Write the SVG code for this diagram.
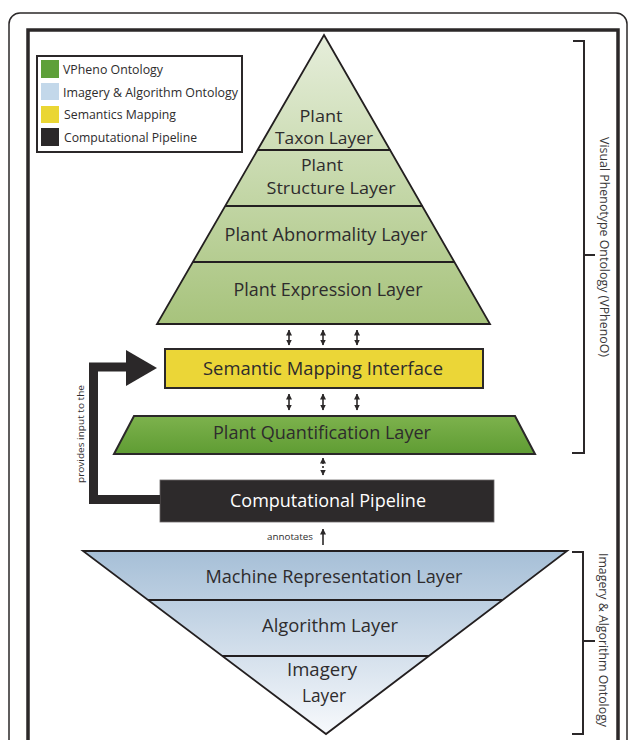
<svg xmlns="http://www.w3.org/2000/svg" width="629" height="740" viewBox="0 0 629 740">
  <style>
    .lbl { font-family: "Open Sans", "Noto Sans", sans-serif; font-size: 18px; fill: #2e2c2d; text-anchor: middle; }
    .lbl2 { font-family: "Open Sans", "Noto Sans", sans-serif; font-size: 16.5px; fill: #2e2c2d; text-anchor: middle; }
    .lbl-w { font-family: "Open Sans", "Noto Sans", sans-serif; font-size: 18px; fill: #ffffff; text-anchor: middle; }
    .leg { font-family: "Open Sans", "Noto Sans", sans-serif; font-size: 12.5px; fill: #2e2c2d; }
    .side { font-family: "Open Sans", "Noto Sans", sans-serif; font-size: 12px; fill: #3a3839; text-anchor: middle; }
    .small { font-family: "Open Sans", "Noto Sans", sans-serif; font-size: 9.5px; fill: #2e2c2d; }
    .edge { stroke: #231f20; stroke-width: 1.8; }
    .dbl { stroke: #2b2829; stroke-width: 1.6; fill: none; }
    .brk { stroke: #2b2829; stroke-width: 2; fill: none; }
  </style>
  <defs>
    <linearGradient id="gPheno" x1="0" y1="0" x2="0" y2="1">
      <stop offset="0" stop-color="#e6eedb"/>
      <stop offset="1" stop-color="#a7c37c"/>
    </linearGradient>
    <linearGradient id="gQuant" x1="0" y1="0" x2="0" y2="1">
      <stop offset="0" stop-color="#7db24d"/>
      <stop offset="1" stop-color="#5f9c33"/>
    </linearGradient>
    <linearGradient id="gImg" x1="0" y1="0" x2="0" y2="1">
      <stop offset="0" stop-color="#a6bfd7"/>
      <stop offset="1" stop-color="#f7f9fc"/>
    </linearGradient>
    <marker id="ah" viewBox="0 0 6 6" refX="5.5" refY="3" markerWidth="6" markerHeight="6" orient="auto-start-reverse" markerUnits="userSpaceOnUse">
      <path d="M0,0 L6,3 L0,6 z" fill="#2b2829"/>
    </marker>
  </defs>

  <!-- frames -->
  <rect x="0" y="0" width="629" height="740" fill="#ffffff"/>
  <rect x="9" y="13" width="618" height="760" rx="11" fill="none" stroke="#2b2829" stroke-width="1.5"/>
  <rect x="28" y="30" width="590" height="720" fill="none" stroke="#2b2829" stroke-width="3.5"/>

  <!-- legend -->
  <g id="legend">
    <rect x="37" y="56" width="205" height="96" fill="#ffffff" stroke="#2b2829" stroke-width="2"/>
    <rect x="41" y="60" width="18" height="18" fill="#5ea03a"/>
    <rect x="41" y="83" width="18" height="17" fill="#c3d8ea"/>
    <rect x="41" y="106" width="18" height="17" fill="#ead634"/>
    <rect x="41" y="128" width="18" height="18" fill="#2b2829"/>
    <text class="leg" x="63" y="74" textLength="100" lengthAdjust="spacingAndGlyphs">VPheno Ontology</text>
    <text class="leg" x="63" y="97" textLength="175" lengthAdjust="spacingAndGlyphs">Imagery &amp; Algorithm Ontology</text>
    <text class="leg" x="64" y="119" textLength="112" lengthAdjust="spacingAndGlyphs">Semantics Mapping</text>
    <text class="leg" x="64" y="142" textLength="133" lengthAdjust="spacingAndGlyphs">Computational Pipeline</text>
  </g>

  <!-- VPheno pyramid -->
  <g id="vpheno-pyramid">
    <polygon points="324,35 490,324 157,324" fill="url(#gPheno)" class="edge" stroke-linejoin="miter"/>
    <line class="edge" x1="257.5" y1="150" x2="390.5" y2="150"/>
    <line class="edge" x1="225" y1="206" x2="423" y2="206"/>
    <line class="edge" x1="193" y1="262" x2="455" y2="262"/>
  </g>
  <g id="plant-taxon-layer">
    <text class="lbl2" x="321" y="122" textLength="43" lengthAdjust="spacingAndGlyphs">Plant</text>
    <text class="lbl2" x="324" y="144" textLength="98" lengthAdjust="spacingAndGlyphs">Taxon Layer</text>
  </g>
  <g id="plant-structure-layer">
    <text class="lbl2" x="322" y="171" textLength="42" lengthAdjust="spacingAndGlyphs">Plant</text>
    <text class="lbl2" x="331" y="194" textLength="129" lengthAdjust="spacingAndGlyphs">Structure Layer</text>
  </g>
  <g id="plant-abnormality-layer">
    <text class="lbl" x="326" y="241" textLength="203" lengthAdjust="spacingAndGlyphs">Plant Abnormality Layer</text>
  </g>
  <g id="plant-expression-layer">
    <text class="lbl" x="328" y="296" textLength="189" lengthAdjust="spacingAndGlyphs">Plant Expression Layer</text>
  </g>

  <!-- semantic mapping -->
  <g id="semantic-mapping-interface">
    <rect x="165" y="349" width="318" height="39" fill="#ebd637" stroke="#2b2829" stroke-width="2"/>
    <text class="lbl" x="323" y="375" textLength="240" lengthAdjust="spacingAndGlyphs">Semantic Mapping Interface</text>
  </g>

  <!-- quantification -->
  <g id="plant-quantification-layer">
    <polygon points="134,416 515,416 535,454 114,454" fill="url(#gQuant)" stroke="#2b2829" stroke-width="2"/>
    <text class="lbl" x="322" y="439" textLength="218" lengthAdjust="spacingAndGlyphs">Plant Quantification Layer</text>
  </g>

  <!-- pipeline -->
  <g id="computational-pipeline">
    <rect x="160" y="480" width="334" height="42" fill="#2d2a2b" stroke="#6b6869" stroke-width="0.8"/>
    <text class="lbl-w" x="328" y="507" textLength="196" lengthAdjust="spacingAndGlyphs">Computational Pipeline</text>
  </g>

  <!-- imagery & algorithm inverted pyramid -->
  <g id="imagery-pyramid">
    <polygon points="83,551 567,551 326,734" fill="url(#gImg)" class="edge"/>
    <line class="edge" x1="148" y1="600" x2="502" y2="600"/>
    <line class="edge" x1="222" y1="656" x2="429" y2="656"/>
  </g>
  <g id="machine-representation-layer">
    <text class="lbl" x="334" y="583" textLength="257" lengthAdjust="spacingAndGlyphs">Machine Representation Layer</text>
  </g>
  <g id="algorithm-layer">
    <text class="lbl" x="330" y="632" textLength="136" lengthAdjust="spacingAndGlyphs">Algorithm Layer</text>
  </g>
  <g id="imagery-layer">
    <text class="lbl" x="322" y="676" textLength="70" lengthAdjust="spacingAndGlyphs">Imagery</text>
    <text class="lbl" x="324" y="702" textLength="44" lengthAdjust="spacingAndGlyphs">Layer</text>
  </g>

  <!-- connectors -->
  <g id="connectors">
    <line class="dbl" x1="289" y1="330" x2="289" y2="345" marker-start="url(#ah)" marker-end="url(#ah)"/>
    <line class="dbl" x1="323" y1="330" x2="323" y2="345" marker-start="url(#ah)" marker-end="url(#ah)"/>
    <line class="dbl" x1="357" y1="330" x2="357" y2="345" marker-start="url(#ah)" marker-end="url(#ah)"/>
    <line class="dbl" x1="289" y1="394" x2="289" y2="410" marker-start="url(#ah)" marker-end="url(#ah)"/>
    <line class="dbl" x1="323" y1="394" x2="323" y2="410" marker-start="url(#ah)" marker-end="url(#ah)"/>
    <line class="dbl" x1="357" y1="394" x2="357" y2="410" marker-start="url(#ah)" marker-end="url(#ah)"/>
    <line class="dbl" x1="323" y1="458" x2="323" y2="475" stroke-dasharray="2 2" marker-start="url(#ah)" marker-end="url(#ah)"/>
    <line class="dbl" x1="323" y1="545" x2="323" y2="529" marker-end="url(#ah)"/>
    <text class="small" x="267" y="540" font-size="9" textLength="46" lengthAdjust="spacingAndGlyphs">annotates</text>
    <!-- feedback from the pipeline to the mapping interface -->
    <path d="M160,499.5 H93.5 V367 H128" fill="none" stroke="#2b2829" stroke-width="9"/>
    <polygon points="126,350 157,368 126,386" fill="#2b2829"/>
    <text class="small" transform="translate(84,434) rotate(-90)" text-anchor="middle" textLength="98" lengthAdjust="spacingAndGlyphs">provides input to the</text>
  </g>

  <!-- brackets -->
  <g id="vphenoo-bracket">
    <path class="brk" d="M573,41 H584 V453 H572 M584,255 H595"/>
    <text class="side" transform="translate(600,247) rotate(90)" textLength="220" lengthAdjust="spacingAndGlyphs">Visual Phenotype Ontology (VPhenoO)</text>
  </g>
  <g id="imagery-algorithm-bracket">
    <path class="brk" d="M572,552 H583 V734 H572 M583,641 H595"/>
    <text class="side" transform="translate(599,640) rotate(90)" textLength="174" lengthAdjust="spacingAndGlyphs">Imagery &amp; Algorithm Ontology</text>
  </g>
</svg>
